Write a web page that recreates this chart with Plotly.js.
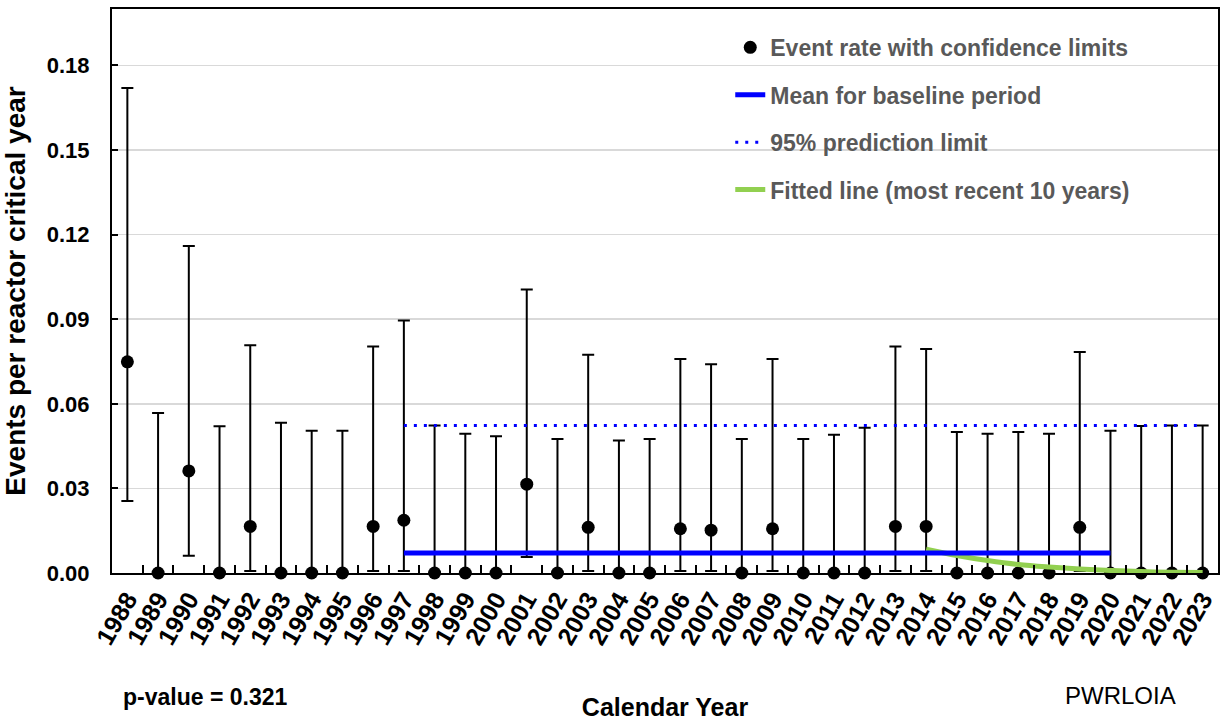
<!DOCTYPE html>
<html>
<head>
<meta charset="utf-8">
<script src="https://cdn.plot.ly/plotly-3.0.1.min.js"></script>
<style>
html,body{margin:0;padding:0;background:#fff;}
#chart{width:1231px;height:723px;}
</style>
</head>
<body>
<div id="chart"></div>
<script>
// ---- data ----
const years = ["1988","1989","1990","1991","1992","1993","1994","1995","1996","1997",
  "1998","1999","2000","2001","2002","2003","2004","2005","2006","2007",
  "2008","2009","2010","2011","2012","2013","2014","2015","2016","2017",
  "2018","2019","2020","2021","2022","2023"];
const rate = [0.0749,0,0.0362,0,0.0165,0,0,0,0.0165,0.0187,
  0,0,0,0.0315,0,0.0162,0,0,0.0157,0.0152,
  0,0.0157,0,0,0,0.0165,0.0165,0,0,0,
  0,0.0162,0,0,0,0];
const upper = [0.172,0.0567,0.116,0.052,0.0808,0.0533,0.0504,0.0504,0.0803,0.0895,
  0.0523,0.0494,0.0485,0.1005,0.0475,0.0774,0.047,0.0475,0.0759,0.074,
  0.0475,0.0759,0.0475,0.049,0.0515,0.0803,0.0794,0.05,0.0494,0.05,
  0.0494,0.0784,0.0504,0.0521,0.0523,0.0523];
const lower = [0.0255,0,0.0061,0,0.0007,0,0,0,0.0007,0.0007,
  0,0,0,0.0057,0,0.0007,0,0,0.0007,0.0007,
  0,0.0007,0,0,0,0.0007,0.0007,0,0,0,
  0,0.0007,0,0,0,0];
const baselineYears = ["1997","2020"];
const baselineMean = [0.0071,0.0071];
const limitYears = ["1997","2023"];
const predLimit = [0.0523,0.0523];
const fitYears = ["2014","2015","2016","2017","2018","2019","2020","2021","2022","2023"];
const fitValues = [0.0084,0.0062,0.0044,0.0030,0.0021,0.0014,0.0009,0.0005,0.0003,0.0002];
const yTicks = [0,0.03,0.06,0.09,0.12,0.15,0.18];
const pValueText = "p-value = 0.321";
const chartId = "PWRLOIA";

const FONT = "Liberation Sans, Arial, sans-serif";

const traces = [
  {
    x: years, y: rate, type: "scatter", mode: "markers",
    name: "Event rate with confidence limits",
    marker: {color: "#000000", size: 13},
    error_y: {
      type: "data", symmetric: false,
      array: upper.map((u,i)=>u-rate[i]),
      arrayminus: rate.map((r,i)=>r-lower[i]),
      color: "#000000", thickness: 2, width: 6
    },
    cliponaxis: false,
    legendgroup: "a", legendrank: 1
  },
  {
    x: fitYears, y: fitValues, type: "scatter", mode: "lines",
    name: "Fitted line (most recent 10 years)",
    line: {color: "#92D050", width: 5, shape: "spline"},
    legendgroup: "d", legendrank: 4
  },
  {
    x: baselineYears, y: baselineMean, type: "scatter", mode: "lines",
    name: "Mean for baseline period",
    line: {color: "#0000FF", width: 5},
    legendgroup: "b", legendrank: 2
  },
  {
    x: limitYears, y: predLimit, type: "scatter", mode: "lines",
    name: "95% prediction limit",
    line: {color: "#0000FF", width: 3, dash: "3px,7px"},
    legendgroup: "c", legendrank: 3
  }
];

const layout = {
  width: 1231, height: 723,
  margin: {l: 112, r: 13, t: 9, b: 150},
  paper_bgcolor: "#ffffff", plot_bgcolor: "#ffffff",
  font: {family: FONT, color: "#000000"},
  showlegend: true,
  legend: {
    x: 0.559, y: 0.97, xanchor: "left", yanchor: "top",
    bgcolor: "rgba(0,0,0,0)",
    font: {family: FONT, size: 23, color: "#595959", weight: "bold"},
    tracegroupgap: 14.5,
    traceorder: "grouped"
  },
  xaxis: {
    type: "category",
    categoryorder: "array", categoryarray: years,
    range: [-0.5, 35.5],
    tickmode: "linear", tick0: 0, dtick: 1,
    tickson: "boundaries",
    ticks: "inside", ticklen: 8, tickwidth: 2, tickcolor: "#000",
    showline: true, linecolor: "#000", linewidth: 2, mirror: true,
    showgrid: false, zeroline: false,
    tickangle: -60,
    tickfont: {family: FONT, size: 25, color: "#000", weight: "bold"},
    title: {text: "Calendar Year", font: {family: FONT, size: 25, color: "#000", weight: "bold"}, standoff: 50},
    automargin: false
  },
  yaxis: {
    range: [0, 0.2],
    tickvals: yTicks, tickformat: ".2f",
    ticks: "inside", ticklen: 6, tickwidth: 2, tickcolor: "#000",
    ticklabelstandoff: 16,
    showline: true, linecolor: "#000", linewidth: 2, mirror: true,
    showgrid: true, gridcolor: "#d9d9d9", gridwidth: 1.5,
    zeroline: false,
    tickfont: {family: FONT, size: 22, color: "#000", weight: "bold"},
    title: {text: "Events per reactor critical year", font: {family: FONT, size: 28, color: "#000", weight: "bold"}, standoff: 14},
    automargin: false
  },
  annotations: [
    {text: pValueText, xref: "paper", yref: "paper", x: (121-112)/1106, y: -(697-573)/564,
     xanchor: "left", yanchor: "middle", showarrow: false,
     font: {family: FONT, size: 23, color: "#000", weight: "bold"}},
    {text: chartId, xref: "paper", yref: "paper", x: (1063-112)/1106, y: -(695-573)/564,
     xanchor: "left", yanchor: "middle", showarrow: false,
     font: {family: FONT, size: 24, color: "#000"}}
  ]
};

Plotly.newPlot("chart", traces, layout, {displayModeBar: false, staticPlot: true});
</script>
</body>
</html>
